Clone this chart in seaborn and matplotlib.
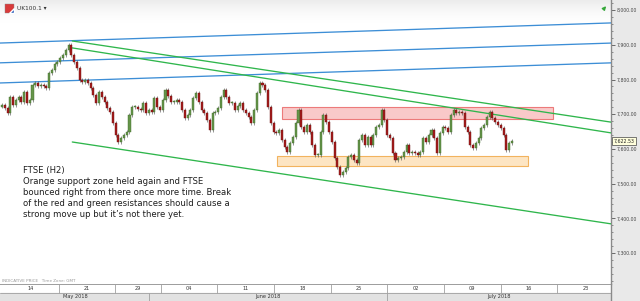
import numpy as np
import pandas as pd
import matplotlib
matplotlib.use("Agg")
import matplotlib.pyplot as plt
import seaborn as sns
from matplotlib.patches import Rectangle, Polygon
from matplotlib.ticker import MultipleLocator, FuncFormatter
from matplotlib.transforms import blended_transform_factory
from matplotlib.colors import LinearSegmentedColormap

# ---------------- data ----------------
first_open = 7722
close = [
    7727, 7718, 7703, 7750, 7727, 7741, 7750, 7735, 7764, 7732,
    7741, 7784, 7790, 7781, 7784, 7781, 7776, 7819, 7827, 7845,
    7850, 7862, 7871, 7885, 7899, 7871, 7850, 7833, 7799, 7793,
    7799, 7790, 7776, 7755, 7732, 7764, 7750, 7735, 7718, 7706,
    7675, 7640, 7620, 7631, 7640, 7649, 7698, 7721, 7721, 7715,
    7712, 7732, 7703, 7712, 7706, 7747, 7721, 7712, 7741, 7770,
    7752, 7735, 7735, 7741, 7735, 7712, 7689, 7698, 7712, 7747,
    7761, 7735, 7712, 7703, 7683, 7654, 7703, 7706, 7718, 7750,
    7770, 7750, 7732, 7732, 7712, 7724, 7732, 7712, 7703, 7692,
    7675, 7712, 7761, 7790, 7784, 7770, 7721, 7675, 7649, 7646,
    7654, 7626, 7605, 7591, 7617, 7634, 7675, 7712, 7663, 7649,
    7669, 7649, 7611, 7582, 7582, 7649, 7698, 7678, 7649, 7620,
    7574, 7548, 7525, 7533, 7545, 7577, 7582, 7568, 7559, 7626,
    7640, 7611, 7634, 7611, 7640, 7663, 7669, 7712, 7683, 7640,
    7631, 7588, 7568, 7574, 7577, 7591, 7611, 7588, 7591, 7588,
    7582, 7591, 7631, 7620, 7640, 7654, 7631, 7588, 7646, 7663,
    7660, 7649, 7698, 7712, 7703, 7706, 7703, 7663, 7649, 7611,
    7603, 7617, 7631, 7660, 7669, 7692, 7706, 7689, 7678, 7669,
    7660, 7640, 7597, 7617, 7623,
]
last_price = 7622.53
trading_days_shown = 45

week_labels = ["14", "21", "29", "04", "11", "18", "25", "02", "09", "16", "23"]
week_days = [5, 5, 4, 5, 5, 5, 5, 5, 5, 5, 5]
month_labels = ["May 2018", "June 2018", "July 2018"]
month_days = [13, 21, 20]

y_ticks = [7300, 7400, 7500, 7600, 7700, 7800, 7900, 8000]

# trend lines: (day, price) end points
blue_days = [-0.2, 53.8]
blue_1 = [7905, 7963]
blue_2 = [7848, 7905]
blue_3 = [7790, 7848]
green_days = [6.2, 53.8]
green_1 = [7911, 7677]
green_2 = [7891, 7646]
green_3 = [7620, 7384]

# zones
red_zone_days = [24.7, 48.6]
red_zone_price = [7686, 7721]
orange_zone_days = [24.3, 46.4]
orange_zone_price = [7551, 7580]

note = ("FTSE (H2)\nOrange support zone held again and FTSE\n"
        "bounced right from there once more time. Break\n"
        "of the red and green resistances should cause a\n"
        "strong move up but it\u2019s not there yet.")

# ---------------- figure ----------------
sns.set_style("white")
plt.rcParams["font.family"] = ["DejaVu Sans"]

W, H = 640, 301
fig = plt.figure(figsize=(W / 100, H / 100), dpi=100, facecolor="#e9e9e9")
ax = fig.add_axes([0, 17 / H, 611 / W, 1 - 17 / H])
dax = fig.add_axes([0, 0, 611 / W, 17 / H], sharex=ax)
ax.set_facecolor("white")

XL = (-0.18, 53.75)
YL = (7211, 8029)

# top gradient (subtle)
cmap = LinearSegmentedColormap.from_list("g", ["white", "#ececec"])
ax.imshow(np.linspace(0, 1, 64).reshape(-1, 1) ** 1.5, extent=(0, 1, 0.92, 1.0),
          transform=ax.transAxes, cmap=cmap, aspect="auto", zorder=0,
          interpolation="bilinear", origin="lower")

# zones
ax.add_patch(Rectangle((red_zone_days[0], red_zone_price[0]),
                       red_zone_days[1] - red_zone_days[0],
                       red_zone_price[1] - red_zone_price[0],
                       facecolor="#f9c9c9", edgecolor="#ec7a7a", lw=0.8, zorder=1))
ax.add_patch(Rectangle((orange_zone_days[0], orange_zone_price[0]),
                       orange_zone_days[1] - orange_zone_days[0],
                       orange_zone_price[1] - orange_zone_price[0],
                       facecolor="#fde5c3", edgecolor="#f2b35e", lw=0.8, zorder=1))

# trend lines via seaborn
rows = []
for name, xs, ys in [("b1", blue_days, blue_1), ("b2", blue_days, blue_2),
                     ("b3", blue_days, blue_3), ("g1", green_days, green_1),
                     ("g2", green_days, green_2), ("g3", green_days, green_3)]:
    for xx, yy in zip(xs, ys):
        rows.append({"line": name, "day": xx, "price": yy})
lines_df = pd.DataFrame(rows)
palette = {"b1": "#3d8ed6", "b2": "#3d8ed6", "b3": "#3d8ed6",
           "g1": "#2fb64c", "g2": "#2fb64c", "g3": "#2fb64c"}
sns.lineplot(data=lines_df, x="day", y="price", hue="line", palette=palette,
             legend=False, ax=ax, linewidth=0.95, sort=False, estimator=None,
             zorder=4)

# candles
c = np.array(close, dtype=float)
o = np.concatenate([[first_open], c[:-1]])
n = len(c)
x = np.linspace(0, trading_days_shown, n)
wick = 5
hi = np.maximum(o, c) + wick
lo = np.minimum(o, c) - wick
up = c >= o
ax.vlines(x, lo, hi, color="#5a5a5a", lw=0.45, zorder=5)
body_b = np.minimum(o, c)
body_h = np.maximum(np.abs(c - o), 2)
ax.bar(x[up], body_h[up], bottom=body_b[up], width=0.18, color="#66954a",
       edgecolor="#3f6a2a", linewidth=0.3, zorder=6)
ax.bar(x[~up], body_h[~up], bottom=body_b[~up], width=0.18, color="#a51c1c",
       edgecolor="#6e1010", linewidth=0.3, zorder=6)

ax.set_xlim(*XL)
ax.set_ylim(*YL)
ax.set_xlabel("")
ax.set_ylabel("")

# y axis on the right
ax.yaxis.tick_right()
ax.set_yticks(y_ticks)
ax.yaxis.set_minor_locator(MultipleLocator(20))
ax.yaxis.set_major_formatter(FuncFormatter(lambda v, p: f"{v:,.2f}"))
ax.tick_params(axis="y", which="major", direction="out", length=3, width=0.6,
               colors="#555", labelsize=3.3, pad=1.2, labelcolor="#444")
ax.tick_params(axis="y", which="minor", direction="out", length=1.6, width=0.5,
               colors="#666")
ax.tick_params(axis="x", bottom=False, labelbottom=False)
for s in ["top", "left", "bottom"]:
    ax.spines[s].set_visible(False)
ax.spines["right"].set_color("#8a8a8a")
ax.spines["right"].set_linewidth(1.0)

# last price label
tr = blended_transform_factory(ax.transAxes, ax.transData)
ax.text(1.004, last_price, f"{last_price:,.2f}", transform=tr, fontsize=3.4,
        va="center", ha="left", color="#222", clip_on=False, zorder=10,
        bbox=dict(boxstyle="square,pad=0.3", facecolor="#ffffdc",
                  edgecolor="#444", lw=0.5))

# annotation text
ax.text(0.037, 1 - 166 / 284, note, transform=ax.transAxes, va="top",
        ha="left", fontsize=6.1, linespacing=1.3, color="#1e1e1e", zorder=8)

ax.text(0.004, 0.003, "INDICATIVE PRICE   Time Zone: GMT",
        transform=ax.transAxes, fontsize=3.0, color="#9a9a9a", va="bottom",
        ha="left", zorder=8)

# header
fig.text(17 / W, 1 - 8.5 / H, "UK100.1 \u25be", fontsize=4.2, color="#333",
         va="center", ha="left")
fig.patches.append(Rectangle((5 / W, 1 - 13 / H), 9 / W, 9 / H,
                             transform=fig.transFigure, facecolor="#d83a3a",
                             edgecolor="#888", lw=0.3))
fig.patches.append(Polygon([(9 / W, 1 - 13 / H), (14 / W, 1 - 13 / H),
                            (14 / W, 1 - 8 / H)], closed=True,
                           transform=fig.transFigure, facecolor="#2a5cb8"))
ax.annotate("", xy=(608 / W, 1 - 4 / H), xytext=(602 / W, 1 - 11 / H),
            xycoords="figure fraction", textcoords="figure fraction",
            arrowprops=dict(arrowstyle="-|>", color="#36a83a", lw=1.0,
                            mutation_scale=5))

# date strip
dax.set_facecolor("white")
dax.set_ylim(0, 2)
dax.axhspan(0, 1, color="#e2e2e2", zorder=0)
dax.axhline(1, color="#a0a0a0", lw=0.6)
dax.axhline(2, color="#8c8c8c", lw=1.2)
wb = np.concatenate([[0], np.cumsum(week_days)])
for b in wb[1:]:
    dax.vlines(b, 1, 2, color="#a0a0a0", lw=0.6)
for lab, a, b in zip(week_labels, wb[:-1], wb[1:]):
    dax.text((a + b) / 2, 1.5, lab, ha="center", va="center", fontsize=3.6,
             color="#333", clip_on=True)
mb = np.concatenate([[0], np.cumsum(month_days)])
for b in mb[1:-1]:
    dax.vlines(b, 0, 1, color="#a0a0a0", lw=0.6)
for lab, a, b in zip(month_labels, mb[:-1], mb[1:]):
    mid = (max(a, XL[0]) + min(b, XL[1])) / 2
    dax.text(mid, 0.5, lab, ha="center", va="center", fontsize=3.6,
             color="#333", clip_on=True)
dax.set_xlim(*XL)
dax.tick_params(left=False, bottom=False, labelleft=False, labelbottom=False)
for s in ["top", "left", "bottom"]:
    dax.spines[s].set_visible(False)
dax.spines["right"].set_color("#8a8a8a")
dax.spines["right"].set_linewidth(1.0)

fig.savefig("out.png", dpi=100, facecolor=fig.get_facecolor())
